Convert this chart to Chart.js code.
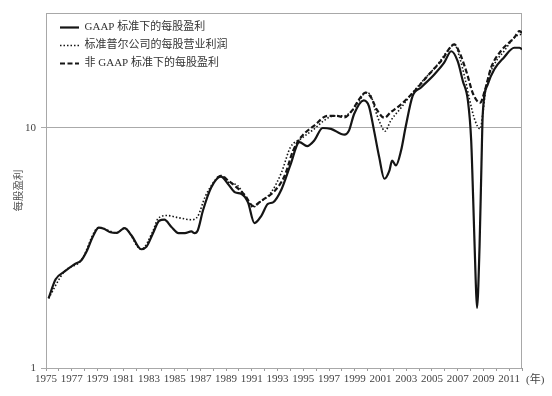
<!DOCTYPE html>
<html>
<head>
<meta charset="utf-8">
<script src="https://cdn.jsdelivr.net/npm/chart.js@4.4.1/dist/chart.umd.min.js"></script>
<style>
  html, body { margin: 0; padding: 0; background: #fff; }
</style>
</head>
<body>
<canvas id="epsChart" width="552" height="396"></canvas>
<script>
// Earnings per share, log scale, 1975-2012
const gaapYears = [1975.2, 1975.75, 1976.4, 1977.2, 1977.75, 1978.2, 1978.6, 1979.1, 1979.5, 1980.0, 1980.5, 1981.1, 1981.65, 1982.4, 1982.8, 1983.3, 1983.8, 1984.2, 1984.75, 1985.3, 1985.8, 1986.3, 1986.55, 1986.8, 1987.2, 1987.85, 1988.6, 1989.15, 1989.7, 1990.2, 1990.7, 1991.2, 1991.75, 1992.25, 1992.65, 1993.3, 1994.0, 1994.7, 1995.3, 1995.85, 1996.5, 1997.15, 1998.2, 1998.55, 1998.95, 1999.7, 2000.1, 2000.5, 2000.9, 2001.3, 2001.7, 2001.9, 2002.2, 2002.6, 2002.95, 2003.5, 2004.15, 2005.2, 2005.95, 2006.5, 2007.0, 2007.4, 2007.8, 2008.05, 2008.2, 2008.4, 2008.5, 2008.7, 2008.85, 2008.95, 2009.35, 2009.85, 2010.6, 2011.4, 2011.8, 2012.0];
const gaapEps = [1.95, 2.34, 2.51, 2.70, 2.81, 3.09, 3.48, 3.84, 3.80, 3.67, 3.65, 3.82, 3.56, 3.12, 3.19, 3.62, 4.10, 4.14, 3.86, 3.64, 3.64, 3.70, 3.64, 3.74, 4.52, 5.65, 6.25, 5.83, 5.38, 5.30, 4.89, 4.01, 4.31, 4.82, 4.89, 5.53, 7.0, 8.70, 8.38, 8.84, 9.97, 9.88, 9.35, 9.72, 11.4, 13.0, 12.3, 9.72, 7.54, 6.13, 6.64, 7.30, 6.96, 8.03, 10.04, 13.57, 14.7, 16.7, 18.65, 20.8, 18.9, 15.65, 12.9, 8.84, 5.15, 2.33, 1.78, 3.20, 7.07, 11.4, 15.2, 17.5, 19.6, 21.5, 21.5, 21.2];

const operYears = [1975.2, 1976.4, 1977.75, 1979.1, 1980.5, 1981.1, 1982.4, 1983.3, 1983.7, 1984.4, 1985.3, 1986.3, 1986.8, 1987.35, 1987.85, 1988.6, 1989.2, 1989.9, 1990.45, 1991.1, 1991.6, 1992.5, 1993.3, 1994.0, 1994.8, 1995.85, 1996.6, 1997.4, 1998.2, 1998.8, 1999.35, 1999.85, 2000.25, 2000.6, 2001.0, 2001.35, 2001.8, 2002.6, 2003.4, 2004.4, 2005.45, 2006.2, 2006.75, 2007.15, 2007.55, 2007.95, 2008.35, 2008.75, 2008.95, 2009.2, 2009.85, 2010.6, 2011.4, 2011.9, 2012.0];
const operEps = [1.95, 2.51, 2.81, 3.84, 3.65, 3.82, 3.12, 3.70, 4.18, 4.31, 4.22, 4.14, 4.28, 5.13, 5.74, 6.31, 5.92, 5.74, 5.21, 4.67, 4.89, 5.38, 6.5, 8.29, 8.98, 9.88, 10.7, 11.2, 11.2, 11.8, 12.9, 14.0, 13.6, 11.8, 10.36, 9.66, 10.7, 12.1, 13.8, 15.9, 18.35, 20.8, 22.2, 19.6, 16.2, 12.9, 10.7, 9.88, 11.4, 14.7, 18.35, 20.8, 23.7, 24.4, 24.2];

const nonGaapYears = [1988.3, 1988.6, 1989.2, 1989.9, 1990.45, 1991.1, 1991.75, 1992.8, 1993.55, 1994.2, 1994.8, 1995.85, 1996.9, 1997.6, 1998.2, 1998.8, 1999.35, 1999.85, 2000.25, 2000.75, 2001.3, 2001.8, 2002.6, 2003.65, 2004.65, 2005.7, 2006.75, 2007.15, 2007.7, 2008.2, 2008.75, 2009.1, 2009.6, 2010.35, 2011.4, 2011.8, 2012.0];
const nonGaapEps = [6.2, 6.31, 6.0, 5.6, 5.25, 4.72, 4.97, 5.47, 6.31, 8.0, 9.1, 10.2, 11.2, 11.2, 11.04, 11.8, 13.15, 14.0, 13.4, 11.8, 11.0, 11.6, 12.5, 14.2, 16.4, 18.9, 22.2, 20.5, 16.96, 13.8, 12.7, 14.2, 17.8, 20.8, 23.7, 25.2, 24.8];

const seriesLabels = ['GAAP 标准下的每股盈利', '标准普尔公司的每股营业利润', '非 GAAP 标准下的每股盈利'];
const yTicks = [1, 10];
const xFirstYear = 1975;
const xLastYear = 2012;
const xLastLabel = 2011;

const FONT = "'Liberation Serif', 'Noto Sans CJK SC', serif";
const INK = '#151515';

function toPoints(xs, ys) {
    return xs.map((x, i) => ({ x: x, y: ys[i] }));
}

// frame round the plot + the "(年)" unit after the last year label
const framePlugin = {
    id: 'frame',
    beforeDatasetsDraw(chart) {
        const a = chart.chartArea;
        const ctx = chart.ctx;
        ctx.save();
        ctx.strokeStyle = '#a8a8a8';
        ctx.lineWidth = 1;
        ctx.strokeRect(a.left + 0.5, a.top + 0.5, a.right - a.left - 1, a.bottom - a.top);
        ctx.restore();
    },
    afterDraw(chart) {
        const ctx = chart.ctx;
        const xs = chart.scales.x;
        ctx.save();
        ctx.fillStyle = '#444';
        ctx.font = '11px ' + FONT;
        ctx.textBaseline = 'middle';
        ctx.fillText('(年)', chart.chartArea.right + 4, xs.top + 12);
        ctx.restore();
    }
};

// nudge the legend inside the plot, as in the original
const legendShift = {
    id: 'legendShift',
    afterLayout(chart) {
        const lg = chart.legend;
        if (lg) {
            lg.left += 7;
            lg.right += 7;
            lg.top += 15;
            lg.bottom += 15;
        }
    }
};

const ctx = document.getElementById('epsChart').getContext('2d');
new Chart(ctx, {
    type: 'line',
    data: {
        datasets: [{
            label: seriesLabels[0],
            data: toPoints(gaapYears, gaapEps),
            borderColor: INK,
            borderWidth: 2.2,
            pointRadius: 0,
            cubicInterpolationMode: 'monotone',
            fill: false
        }, {
            label: seriesLabels[1],
            data: toPoints(operYears, operEps),
            borderColor: INK,
            borderWidth: 1.6,
            borderDash: [1.5, 2],
            pointRadius: 0,
            cubicInterpolationMode: 'monotone',
            fill: false
        }, {
            label: seriesLabels[2],
            data: toPoints(nonGaapYears, nonGaapEps),
            borderColor: INK,
            borderWidth: 2.2,
            borderDash: [5, 2.5],
            pointRadius: 0,
            cubicInterpolationMode: 'monotone',
            fill: false
        }]
    },
    options: {
        responsive: false,
        animation: false,
        devicePixelRatio: 1,
        layout: { padding: { top: 13, right: 30, left: 0, bottom: 0 } },
        plugins: {
            tooltip: { enabled: false },
            legend: {
                position: 'chartArea',
                align: 'start',
                labels: {
                    usePointStyle: true,
                    pointStyle: 'line',
                    pointStyleWidth: 19,
                    padding: 7,
                    color: '#333',
                    font: { family: FONT, size: 11 },
                    generateLabels: (chart) => {
                        const items = Chart.defaults.plugins.legend.labels.generateLabels(chart);
                        return items.map((item) => {
                            const ds = chart.data.datasets[item.datasetIndex];
                            return Object.assign(item, {
                                lineDash: ds.borderDash || [],
                                lineWidth: ds.borderWidth,
                                strokeStyle: INK,
                                pointStyle: 'line'
                            });
                        });
                    }
                }
            }
        },
        scales: {
            x: {
                type: 'linear',
                min: xFirstYear,
                max: xLastYear,
                afterFit: (scale) => { scale.height = 28; },
                ticks: {
                    stepSize: 1,
                    autoSkip: false,
                    maxRotation: 0,
                    padding: 2,
                    color: '#444',
                    font: { family: FONT, size: 11 },
                    callback: (v) => ((v - xFirstYear) % 2 === 0 && v <= xLastLabel) ? String(v) : ''
                },
                grid: { drawOnChartArea: false, tickLength: 3, color: '#999' },
                border: { color: '#999' }
            },
            y: {
                type: 'logarithmic',
                min: 1,
                max: 30,
                afterFit: (scale) => { scale.width = 46; },
                afterBuildTicks: (scale) => { scale.ticks = yTicks.map(v => ({ value: v })); },
                ticks: {
                    padding: 5,
                    color: '#444',
                    font: { family: FONT, size: 11 },
                    callback: (v) => String(v)
                },
                grid: { color: '#aaa', tickLength: 5 },
                border: { color: '#999' },
                title: {
                    display: true,
                    text: '每股盈利',
                    color: '#555',
                    font: { family: FONT, size: 10.5 },
                    padding: { top: 13, bottom: 0 }
                }
            }
        }
    },
    plugins: [framePlugin, legendShift]
});
</script>
</body>
</html>
